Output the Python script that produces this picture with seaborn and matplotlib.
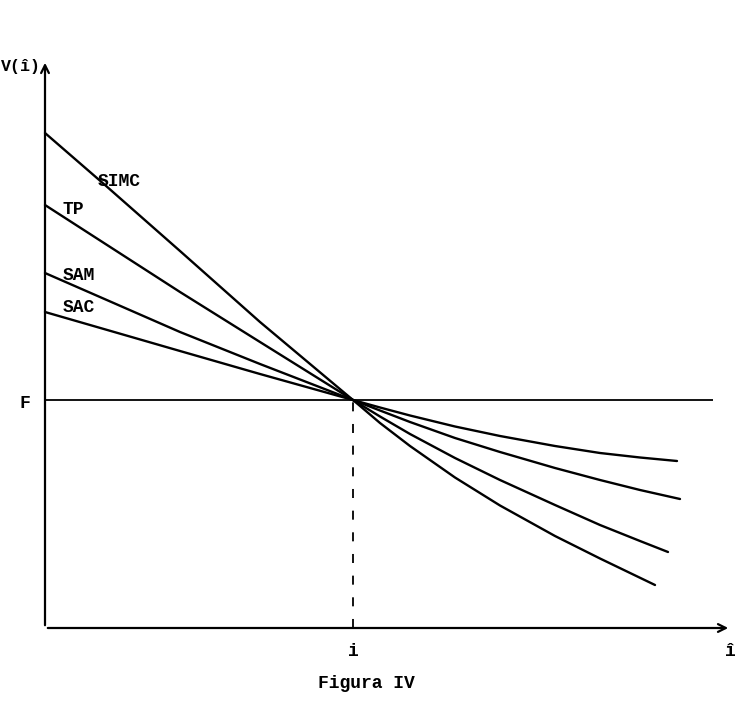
import pandas as pd
import matplotlib.pyplot as plt
import seaborn as sns

# values (x: rate axis, y: value axis, origin at the axes corner)
curves = ["SIMC", "TP", "SAM", "SAC"]
simc_x = [0, 60, 135, 215, 308, 335, 365, 410, 455, 510, 555, 610]
simc_y = [495, 443, 377, 306, 228, 205, 182, 150.5, 122.5, 92, 69.5, 43]
tp_x = [0, 135, 215, 308, 335, 365, 410, 455, 510, 555, 595, 623]
tp_y = [423, 336, 286, 228, 211.5, 194, 170, 148, 123, 103, 87, 76]
sam_x = [0, 135, 215, 308, 335, 365, 410, 455, 510, 555, 595, 635]
sam_y = [355, 296, 264, 228, 217.5, 206, 190, 176, 160, 148, 138, 129]
sac_x = [0, 135, 215, 308, 335, 365, 410, 455, 510, 555, 595, 632]
sac_y = [316, 277, 254, 228, 220.5, 212.5, 201.5, 192, 182, 175, 170.5, 167]
F_level = 228
i_level = 308

sns.set_style("white")
plt.rcParams["font.family"] = ["Liberation Mono", "DejaVu Sans Mono"]

frames = []
for name, xs, ys in zip(curves, [simc_x, tp_x, sam_x, sac_x],
                        [simc_y, tp_y, sam_y, sac_y]):
    frames.append(pd.DataFrame({"x": xs, "y": ys, "curve": name}))
df = pd.concat(frames, ignore_index=True)

fig = plt.figure(figsize=(7.37, 7.2), dpi=100)
ax = fig.add_axes([0, 0, 1, 1])
sns.lineplot(data=df, x="x", y="y", hue="curve", sort=False, legend=False,
             palette={c: "black" for c in curves}, linewidth=1.7, ax=ax)

ax.set_xlim(-45, 692)
ax.set_ylim(-92, 628)
ax.axis("off")

# axes with arrows
ax.annotate("", xy=(0, 568), xytext=(0, 0),
            arrowprops=dict(arrowstyle="->", color="black", lw=1.6,
                            mutation_scale=14))
ax.annotate("", xy=(686, 0), xytext=(0, 0),
            arrowprops=dict(arrowstyle="->", color="black", lw=1.6,
                            mutation_scale=14))

ax.hlines(F_level, 0, 668, color="black", lw=1.3)
ax.vlines(i_level, 0, F_level, color="black", lw=1.3, linestyles=(0, (5, 7)))

txt = dict(fontsize=13, fontweight="bold", color="black")
ax.text(-44, 561, "V(î)", ha="left", va="center",
        fontsize=12, fontweight="bold", color="black")
ax.text(-15, 225, "F", ha="right", va="center", **txt)
ax.text(i_level, -24, "i", ha="center", va="center", **txt)
ax.text(685, -24, "î", ha="center", va="center", **txt)
ax.text(53, 447, "SIMC", ha="left", va="center", **txt)
ax.text(18, 418, "TP", ha="left", va="center", **txt)
ax.text(18, 352, "SAM", ha="left", va="center", **txt)
ax.text(18, 320, "SAC", ha="left", va="center", **txt)
ax.text(321, -55, "Figura IV", ha="center", va="center", **txt)

fig.savefig("out.png", dpi=100)
